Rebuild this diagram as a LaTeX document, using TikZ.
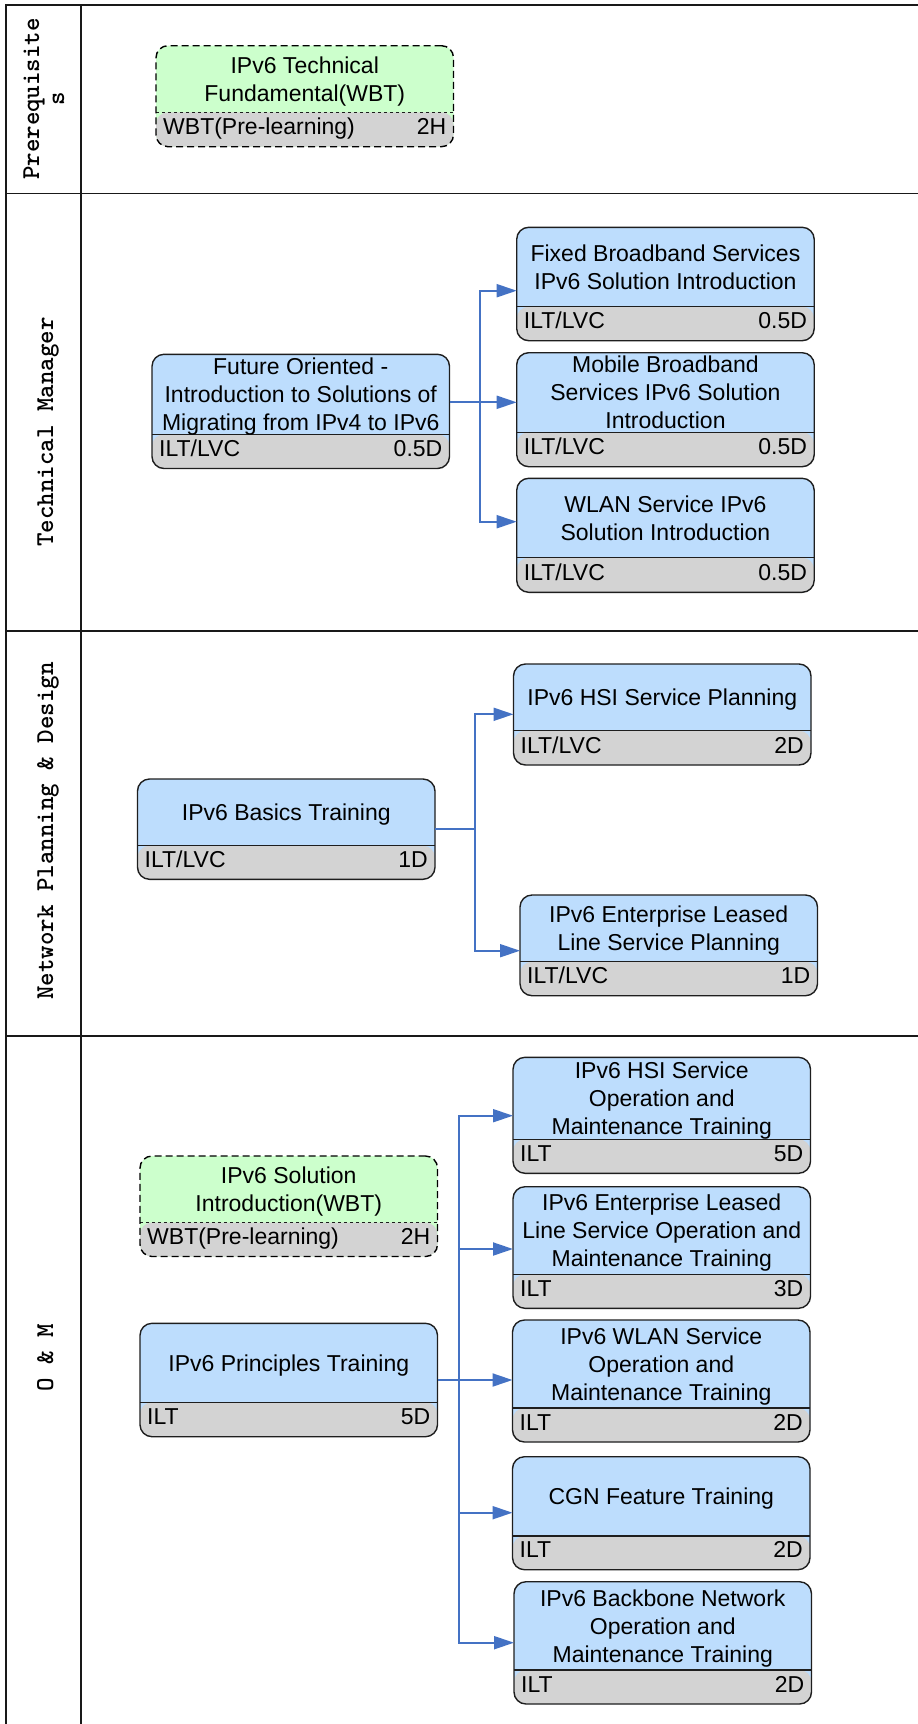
\documentclass[tikz,border=0pt]{standalone}
\usepackage{fontspec}
\setsansfont{Liberation Sans}
\usetikzlibrary{arrows.meta}

\definecolor{topblue}{RGB}{189,221,253}
\definecolor{topgreen}{RGB}{204,255,204}
\definecolor{lowgray}{RGB}{211,211,211}
\definecolor{edgecol}{RGB}{30,30,30}
\definecolor{linkblue}{RGB}{68,114,196}

\tikzset{
  frame line/.style={line width=1.3pt, draw=black!90},
  lane/.style={font=\ttfamily\bfseries\fontsize{25.7}{30}\selectfont, inner sep=0pt, rotate=90, anchor=base},
  course/.style={draw=edgecol, line width=1.4pt, rounded corners=12pt, inner sep=0pt,
    outer sep=0pt, minimum width=297.5pt, anchor=north west},
  solid box/.style={fill=topblue},
  dashed box/.style={fill=topgreen, draw=black, dashed, dash pattern=on 7pt off 4pt},
  lower band/.style n args={2}{path picture={
      \fill[lowgray] (path picture bounding box.south west) rectangle
        ([yshift=#1 pt]path picture bounding box.south east);
      \draw[draw=edgecol, line width=1.4pt, #2]
        ([yshift=#1 pt]path picture bounding box.south west) --
        ([yshift=#1 pt]path picture bounding box.south east);}},
  title/.style={font=\sffamily\fontsize{23}{28}\selectfont, align=center, inner sep=0pt},
  info/.style={font=\sffamily\fontsize{23}{28}\selectfont, inner sep=0pt},
  link/.style={draw=linkblue, line width=2pt},
  flow/.style={link, -{Triangle[length=20pt,width=13pt]}},
}

% #1 name, #2 solid/dashed, #3 left x, #4 top, #5 divider, #6 bottom,
% #7 course title, #8 delivery mode, #9 duration
\newcommand\course[9]{%
  \pgfmathsetmacro\cbxH{#6-#4}%
  \pgfmathsetmacro\cbxD{#6-#5}%
  \pgfmathsetmacro\cbxX{#3+148.75}%
  \pgfmathsetmacro\cbxY{(#4+#5)/2+2.3}%
  \pgfmathsetmacro\cbxB{#6-12}%
  \pgfmathsetmacro\cbxL{#3+7}%
  \pgfmathsetmacro\cbxR{#3+290.5}%
  \node[course, #2 box, minimum height=\cbxH pt, lower band={\cbxD}{#2}] (#1) at (#3,#4) {};
  \node[title] (#1-title) at (\cbxX,\cbxY) {\vphantom{(}#7\vphantom{(}};
  \node[info, anchor=base west] (#1-mode) at (\cbxL,\cbxB) {#8};
  \node[info, anchor=base east] (#1-time) at (\cbxR,\cbxB) {#9};
}

\begin{document}
\begin{tikzpicture}[x=1pt,y=-1pt]
\useasboundingbox (0,0) rectangle (918,1724);

% swimlane table
\draw[frame line] (918,5) -- (6,5) -- (6,1724);
\draw[frame line] (81,5) -- (81,1724);
\draw[frame line] (6,193.3) -- (918,193.3);
\draw[frame line] (6,631) -- (918,631);
\draw[frame line] (6,1036) -- (918,1036);

% lane titles
\node[lane] (lane-pre-a) at (39,99) {Prerequisite};
\node[lane] (lane-pre-b) at (64,99) {s};
\node[lane] (lane-tm) at (53,432) {Technical Manager};
\node[lane] (lane-npd) at (53,831) {Network Planning \& Design};
\node[lane] (lane-om) at (53,1357.5) {O \& M};

% prerequisites
\course{P1}{dashed}{156}{45.7}{112.3}{146.7}{IPv6 Technical\\Fundamental(WBT)}{WBT(Pre-learning)}{2H}

% technical manager
\course{T0}{solid}{152}{354.3}{434.3}{468.5}{Future Oriented -\\Introduction to Solutions of\\Migrating from IPv4 to IPv6}{ILT/LVC}{0.5D}
\course{T1}{solid}{516.7}{227.3}{306.7}{340.7}{Fixed Broadband Services\\IPv6 Solution Introduction}{ILT/LVC}{0.5D}
\course{T2}{solid}{516.7}{352.7}{432.3}{466.7}{Mobile Broadband\\Services IPv6 Solution\\Introduction}{ILT/LVC}{0.5D}
\course{T3}{solid}{516.7}{478.3}{557.7}{592.3}{WLAN Service IPv6\\Solution Introduction}{ILT/LVC}{0.5D}

% network planning & design
\course{N0}{solid}{137.5}{779}{845.7}{879.3}{IPv6 Basics Training}{ILT/LVC}{1D}
\course{N1}{solid}{513.5}{664}{730.7}{765}{IPv6 HSI Service Planning}{ILT/LVC}{2D}
\course{N2}{solid}{520}{895}{961.7}{995.7}{IPv6 Enterprise Leased\\Line Service Planning}{ILT/LVC}{1D}

% operation & maintenance
\course{O0}{dashed}{140}{1156}{1222.5}{1256.5}{IPv6 Solution\\Introduction(WBT)}{WBT(Pre-learning)}{2H}
\course{O1}{solid}{140}{1323.3}{1402.3}{1436.7}{IPv6 Principles Training}{ILT}{5D}
\course{OA}{solid}{513}{1057.3}{1139.3}{1173.3}{IPv6 HSI Service\\Operation and\\Maintenance Training}{ILT}{5D}
\course{OB}{solid}{513}{1186.7}{1274.3}{1308.3}{IPv6 Enterprise Leased\\Line Service Operation and\\Maintenance Training}{ILT}{3D}
\course{OC}{solid}{512.5}{1320}{1408}{1442}{IPv6 WLAN Service\\Operation and\\Maintenance Training}{ILT}{2D}
\course{OD}{solid}{512.5}{1456.7}{1536}{1569.7}{CGN Feature Training}{ILT}{2D}
\course{OE}{solid}{514}{1581.7}{1670}{1704}{IPv6 Backbone Network\\Operation and\\Maintenance Training}{ILT}{2D}

% connectors: technical manager
\coordinate (tmfork) at (480,402.3);
\draw[link] (T0.east |- tmfork) -- (tmfork);
\draw[flow] (tmfork) |- (T1.west |- 0,290.7);
\draw[flow] (tmfork) -- (T2.west |- tmfork);
\draw[flow] (tmfork) |- (T3.west |- 0,521.7);

% connectors: network planning & design
\coordinate (npfork) at (475,829.3);
\draw[link] (N0.east |- npfork) -- (npfork);
\draw[flow] (npfork) |- (N1.west |- 0,714.3);
\draw[flow] (npfork) |- (N2.west |- 0,950.7);

% connectors: operation & maintenance
\coordinate (omfork) at (459.3,1380);
\draw[link] (O1.east |- omfork) -- (omfork);
\draw[flow] (omfork) |- (OA.west |- 0,1115.7);
\draw[flow] (omfork) |- (OB.west |- 0,1249);
\draw[flow] (omfork) -- (OC.west |- omfork);
\draw[flow] (omfork) |- (OD.west |- 0,1512.7);
\draw[flow] (omfork) |- (OE.west |- 0,1642.7);
\end{tikzpicture}
\end{document}
